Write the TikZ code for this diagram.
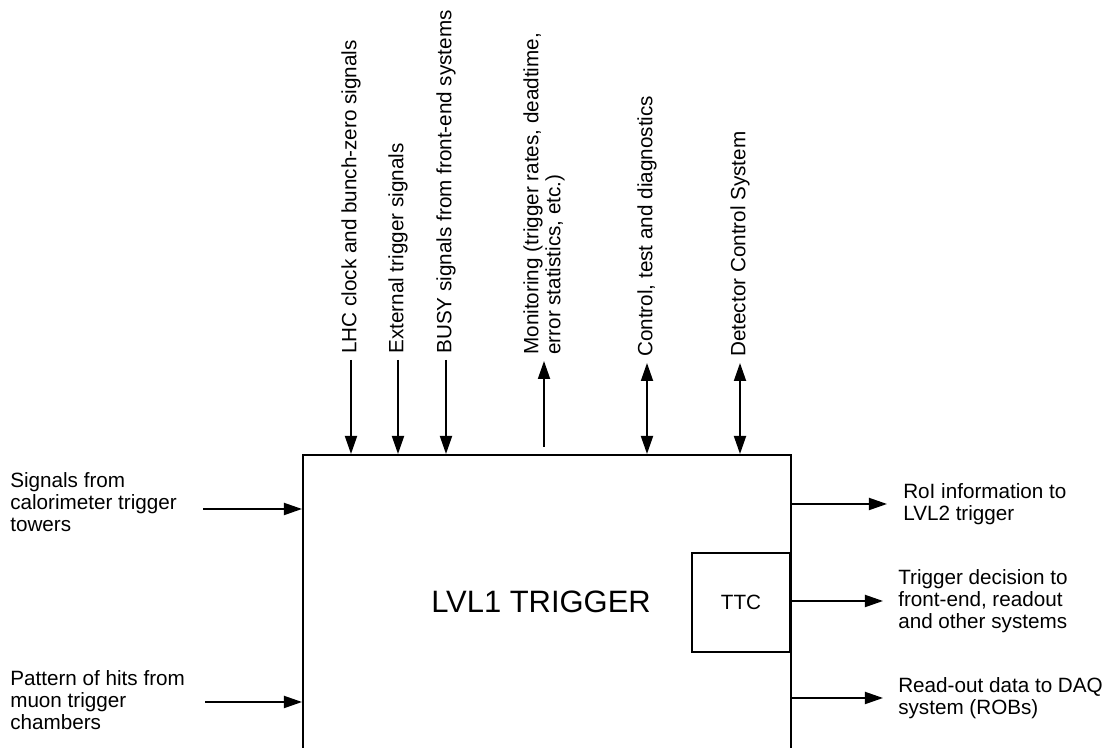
\documentclass[tikz,border=0pt]{standalone}
\usepackage{fontspec}
\setmainfont{Liberation Sans}
\usepackage{tikz}
\usetikzlibrary{arrows.meta,positioning}

\begin{document}
\begin{tikzpicture}[x=0.025cm, y=0.025cm,
    txt/.style={inner sep=0pt, align=left, font=\fontsize{14.7}{15.5}\selectfont},
    vtxt/.style={txt, rotate=90, anchor=west, inner xsep=0.15cm},
    box/.style={draw, line width=1.3pt, inner sep=0pt},
    sig/.style={line width=1.3pt, -{Triangle[length=0.45cm, width=0.3cm]}},
    bisig/.style={line width=1.3pt, {Triangle[length=0.45cm, width=0.3cm]}-{Triangle[length=0.45cm, width=0.3cm]}}]
  \useasboundingbox (0,0) rectangle (1107,748);

  % 本体
  \node[box, anchor=north west, minimum width=12.2cm, minimum height=8.5cm] (l1) at (302,294) {};
  \node[font=\fontsize{22}{26}\selectfont, inner sep=0pt] (l1txt) at (541,146) {LVL1 TRIGGER};
  \node[box, txt, minimum width=2.45cm, minimum height=2.475cm] (ttc) at (741,145.5) {TTC};

  % 上の信号
  \node[vtxt] (lhc)  at (351,388) {LHC clock and bunch-zero signals};
  \node[vtxt] (ext)  at (398,388) {External trigger signals};
  \node[vtxt] (busy) at (446,388) {BUSY signals from front-end systems};
  \node[vtxt] (mon)  at (544,387) {Monitoring (trigger rates, deadtime,\\error statistics, etc.)};
  \node[vtxt] (ctrl) at (647,385) {Control, test and diagnostics};
  \node[vtxt] (dcs)  at (740,385) {Detector Control System};

  \foreach \n in {lhc,ext,busy}
    \draw[sig] (\n.west) -- (\n.west |- l1.north);
  \draw[sig, shorten <=0.175cm] (mon.west |- l1.north) -- (mon.west);
  \foreach \n in {ctrl,dcs}
    \draw[bisig] (\n.west) -- (\n.west |- l1.north);

  % 左の入力
  \node[txt, anchor=west] (calo) at (10,246) {Signals from\\calorimeter trigger\\towers};
  \node[txt, anchor=west] (muon) at (10,48) {Pattern of hits from\\muon trigger\\chambers};
  \coordinate (caloin) at (203,239);
  \coordinate (muonin) at (205,46);
  \draw[sig] (caloin) -- (caloin -| l1.west);
  \draw[sig] (muonin) -- (muonin -| l1.west);

  % 右の出力
  \node[txt, anchor=west] (roi) at (903,244) {RoI information to\\LVL2 trigger};
  \node[txt, anchor=west] (dec) at (898,147) {Trigger decision to\\front-end, readout\\and other systems};
  \node[txt, anchor=west] (rod) at (898,50) {Read-out data to DAQ\\system (ROBs)};
  \draw[sig, shorten >=0.4cm] (roi.west -| l1.east) -- (roi.west);
  \draw[sig, shorten >=0.375cm] (dec.west -| l1.east) -- (dec.west);
  \draw[sig, shorten >=0.375cm] (rod.west -| l1.east) -- (rod.west);
\end{tikzpicture}
\end{document}
